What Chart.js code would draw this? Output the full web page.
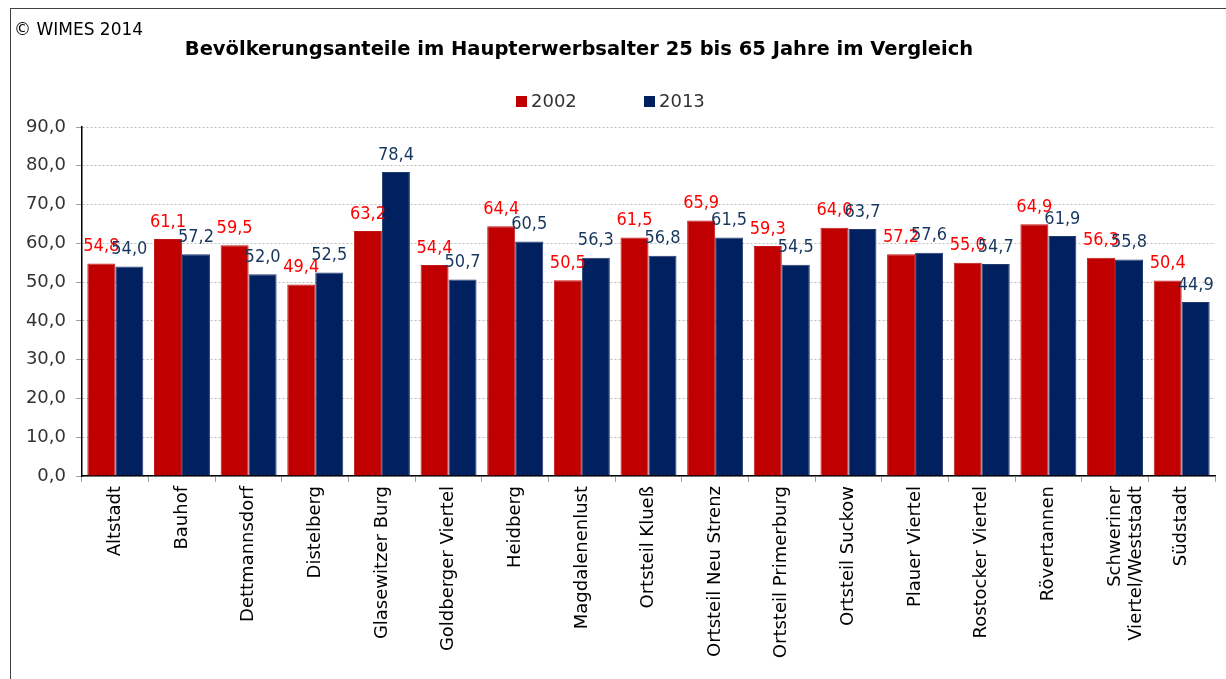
<!DOCTYPE html>
<html lang="de">
<head>
<meta charset="utf-8">
<title>Bevölkerungsanteile im Haupterwerbsalter</title>
<script src="https://cdn.jsdelivr.net/npm/chart.js@4/dist/chart.umd.min.js"></script>
<style>
  html, body { margin: 0; padding: 0; background: #fff; }
  body { width: 1226px; height: 679px; position: relative; overflow: hidden;
         font-family: "DejaVu Sans", sans-serif; }
  #frame { position: absolute; left: 10px; top: 8px; right: -2px; bottom: -2px;
           border-left: 1px solid #404040; border-top: 1px solid #404040; }
  #wrap { position: absolute; left: 0; top: 0; width: 1226px; height: 679px; }
  #copy { position: absolute; left: 14px; top: 19px; font-size: 17px; color: #000; }
  #title { position: absolute; left: 0; top: 37px; width: 1158px; text-align: center;
           font-size: 19.5px; font-weight: bold; color: #000; }
  #legend { position: absolute; top: 90px; left: 516px; font-size: 18px; color: #333; }
  #legend span.item { position: absolute; top: 0; white-space: nowrap; }
  #legend i { display: inline-block; width: 11px; height: 11px; margin-right: 4px; vertical-align: 0px; }
</style>
</head>
<body>
<div id="wrap"><canvas id="chart"></canvas></div>
<div id="frame"></div>
<div id="copy">© WIMES 2014</div>
<div id="title">Bevölkerungsanteile im Haupterwerbsalter 25 bis 65 Jahre im Vergleich</div>
<div id="legend"></div>
<script>
// Stadtteile (Kategorien)
const categories = [
  "Altstadt", "Bauhof", "Dettmannsdorf", "Distelberg", "Glasewitzer Burg",
  "Goldberger Viertel", "Heidberg", "Magdalenenlust", "Ortsteil Klueß",
  "Ortsteil Neu Strenz", "Ortsteil Primerburg", "Ortsteil Suckow",
  "Plauer Viertel", "Rostocker Viertel", "Rövertannen",
  ["Schweriner", "Viertel/Weststadt"], "Südstadt"
];

// Anteile in %
const values2002 = [54.8, 61.1, 59.5, 49.4, 63.2, 54.4, 64.4, 50.5, 61.5, 65.9, 59.3, 64.0, 57.2, 55.0, 64.9, 56.3, 50.4];
const values2013 = [54.0, 57.2, 52.0, 52.5, 78.4, 50.7, 60.5, 56.3, 56.8, 61.5, 54.5, 63.7, 57.6, 54.7, 61.9, 55.8, 44.9];

const seriesNames = ["2002", "2013"];
const yTicks = [0, 10, 20, 30, 40, 50, 60, 70, 80, 90];

const FONT = '"DejaVu Sans", sans-serif';
const LABEL_FONT = '"DejaVu Sans Condensed", "DejaVu Sans", sans-serif';
const COLORS = ["#C00000", "#002060"];
const LABEL_COLORS = ["#FF0000", "#17375E"];

const fmt = v => v.toFixed(1).replace(".", ",");

// Legende als HTML (Positionen wie im Original)
const legend = document.getElementById("legend");
seriesNames.forEach((name, i) => {
  const item = document.createElement("span");
  item.className = "item";
  item.style.left = (i * 128) + "px";
  item.innerHTML = `<i style="background:${COLORS[i]}"></i>${name}`;
  legend.appendChild(item);
});

// Datenbeschriftung über den Balken
const valueLabels = {
  id: "valueLabels",
  afterDatasetsDraw(chart) {
    const ctx = chart.ctx;
    ctx.save();
    ctx.font = "18px " + LABEL_FONT;
    ctx.textAlign = "center";
    ctx.textBaseline = "bottom";
    chart.data.datasets.forEach((ds, di) => {
      const meta = chart.getDatasetMeta(di);
      ctx.fillStyle = LABEL_COLORS[di];
      meta.data.forEach((bar, i) => {
        ctx.fillText(fmt(ds.data[i]), bar.x, bar.y - 8);
      });
    });
    ctx.restore();
  }
};

new Chart(document.getElementById("chart"), {
  type: "bar",
  data: {
    labels: categories,
    datasets: [
      { label: seriesNames[0], data: values2002, backgroundColor: COLORS[0], borderColor: "#C41818", borderWidth: 1 },
      { label: seriesNames[1], data: values2013, backgroundColor: COLORS[1], borderColor: "#243A6C", borderWidth: 1 }
    ]
  },
  options: {
    responsive: true,
    maintainAspectRatio: false,
    animation: false,
    layout: { padding: { left: 10, right: 11, top: 127, bottom: 0 } },
    plugins: { legend: { display: false }, title: { display: false }, tooltip: { enabled: false } },
    datasets: { bar: { categoryPercentage: 0.84, barPercentage: 1.0 } },
    scales: {
      x: {
        grid: { offset: true, drawOnChartArea: false, tickLength: 6, color: "#a0a0a0" },
        border: { color: "#000", width: 1.5 },
        ticks: {
          color: "#000", font: { family: FONT, size: 18 },
          minRotation: 90, maxRotation: 90, autoSkip: false, padding: 4
        },
        afterFit(scale) { scale.height = 203; }
      },
      y: {
        min: 0, max: 90,
        afterBuildTicks(scale) { scale.ticks = yTicks.map(v => ({ value: v })); },
        grid: { color: "#bdbdbd", tickLength: 6, tickColor: "#a0a0a0" },
        border: { color: "#000", width: 1.5, dash: [2, 2] },
        ticks: {
          color: "#333", font: { family: FONT, size: 18 }, padding: 10,
          callback: v => fmt(v)
        },
        afterFit(scale) { scale.width = 72; }
      }
    }
  },
  plugins: [valueLabels]
});
</script>
</body>
</html>
